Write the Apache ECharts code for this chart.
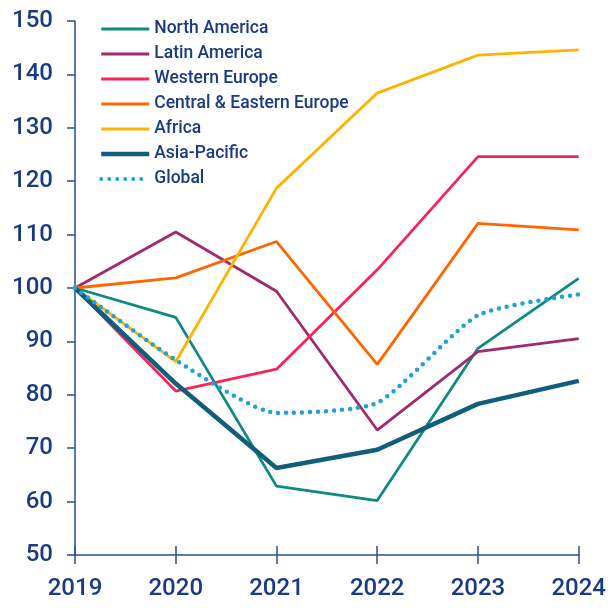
<!DOCTYPE html>
<html>
<head>
<meta charset="utf-8">
<script src="https://cdn.jsdelivr.net/npm/echarts@6/dist/echarts.min.js"></script>
<style>
  html, body { margin: 0; padding: 0; background: #fff; }
  #chart { width: 609px; height: 608px; }
</style>
</head>
<body>
<div id="chart"></div>
<script>
// years on the x axis
var years = ['2019', '2020', '2021', '2022', '2023', '2024'];

// index values (2019 = 100)
var northAmerica = [100, 94.5, 62.9, 60.2, 88.7, 101.8];
var latinAmerica = [100, 110.5, 99.4, 73.4, 88.1, 90.5];
var westernEurope = [100, 80.7, 84.8, 103.4, 124.6, 124.6];
var centralEastEurope = [100, 101.9, 108.7, 85.7, 112.1, 110.9];
var africa = [100, 86.2, 118.7, 136.5, 143.6, 144.6];
var asiaPacific = [100, 82.1, 66.3, 69.7, 78.3, 82.6];
var globalIdx = [100, 86.5, 76.6, 78.5, 94.9, 98.8];

var navy = '#1a3a84';
var axisBlue = '#2a4d96';
var font = 'Roboto, Liberation Sans, sans-serif';

function line(name, data, color, width) {
  return {
    name: name,
    type: 'line',
    data: data,
    symbol: 'none',
    lineStyle: { color: color, width: width },
    itemStyle: { color: color }
  };
}

var series = [
  line('North America', northAmerica, '#0f8a80', 2.8),
  line('Latin America', latinAmerica, '#a12a6e', 2.8),
  line('Western Europe', westernEurope, '#f7245c', 2.8),
  line('Central & Eastern Europe', centralEastEurope, '#ff6600', 2.8),
  line('Africa', africa, '#ffb300', 2.8),
  line('Asia-Pacific', asiaPacific, '#105e7a', 4.5),
  {
    name: 'Global',
    type: 'line',
    data: globalIdx,
    symbol: 'none',
    smooth: 0.2,
    lineStyle: { color: '#1da1d8', width: 4.5, type: [0, 8], cap: 'round' },
    itemStyle: { color: '#1da1d8' }
  }
];

// legend entries: line only, no marker
var legendData = series.map(function (s) {
  return {
    name: s.name,
    itemStyle: { opacity: 0 },
    lineStyle: {
      color: s.lineStyle.color,
      width: s.name === 'Asia-Pacific' ? 4.5 : (s.name === 'Global' ? 4 : 3),
      type: s.lineStyle.type || 'solid',
      cap: s.lineStyle.cap || 'butt'
    }
  };
});

var chart = echarts.init(document.getElementById('chart'));
chart.setOption({
  animation: false,
  grid: { left: 75, right: 27, top: 21, bottom: 53 },
  legend: {
    orient: 'vertical',
    left: 99,
    top: 19,
    padding: 0,
    itemWidth: 48,
    itemHeight: 14,
    itemGap: 5,
    textStyle: { color: navy, fontSize: 17.5, fontFamily: font, fontWeight: 500, lineHeight: 20 },
    data: legendData
  },
  xAxis: [{
    type: 'category',
    data: years,
    boundaryGap: false,
    axisLine: { lineStyle: { color: axisBlue, width: 1.5 } },
    axisTick: { show: true, length: 9, lineStyle: { color: axisBlue, width: 1.5 } },
    axisLabel: { color: navy, fontSize: 24, fontFamily: font, fontWeight: 500, margin: 22 },
    splitLine: { show: false }
  }, {
    type: 'category',
    data: years,
    boundaryGap: false,
    position: 'bottom',
    axisLine: { show: false },
    axisTick: { show: true, inside: true, length: 9, lineStyle: { color: axisBlue, width: 1.5 } },
    axisLabel: { show: false },
    splitLine: { show: false }
  }],
  yAxis: {
    type: 'value',
    min: 50,
    max: 150,
    interval: 10,
    axisLine: { show: true, lineStyle: { color: axisBlue, width: 1.5 } },
    axisTick: { show: true, length: 8, lineStyle: { color: axisBlue, width: 1.5 } },
    axisLabel: { color: navy, fontSize: 24, fontFamily: font, fontWeight: 500, margin: 22 },
    splitLine: { show: false }
  },
  series: series
});
</script>
</body>
</html>
